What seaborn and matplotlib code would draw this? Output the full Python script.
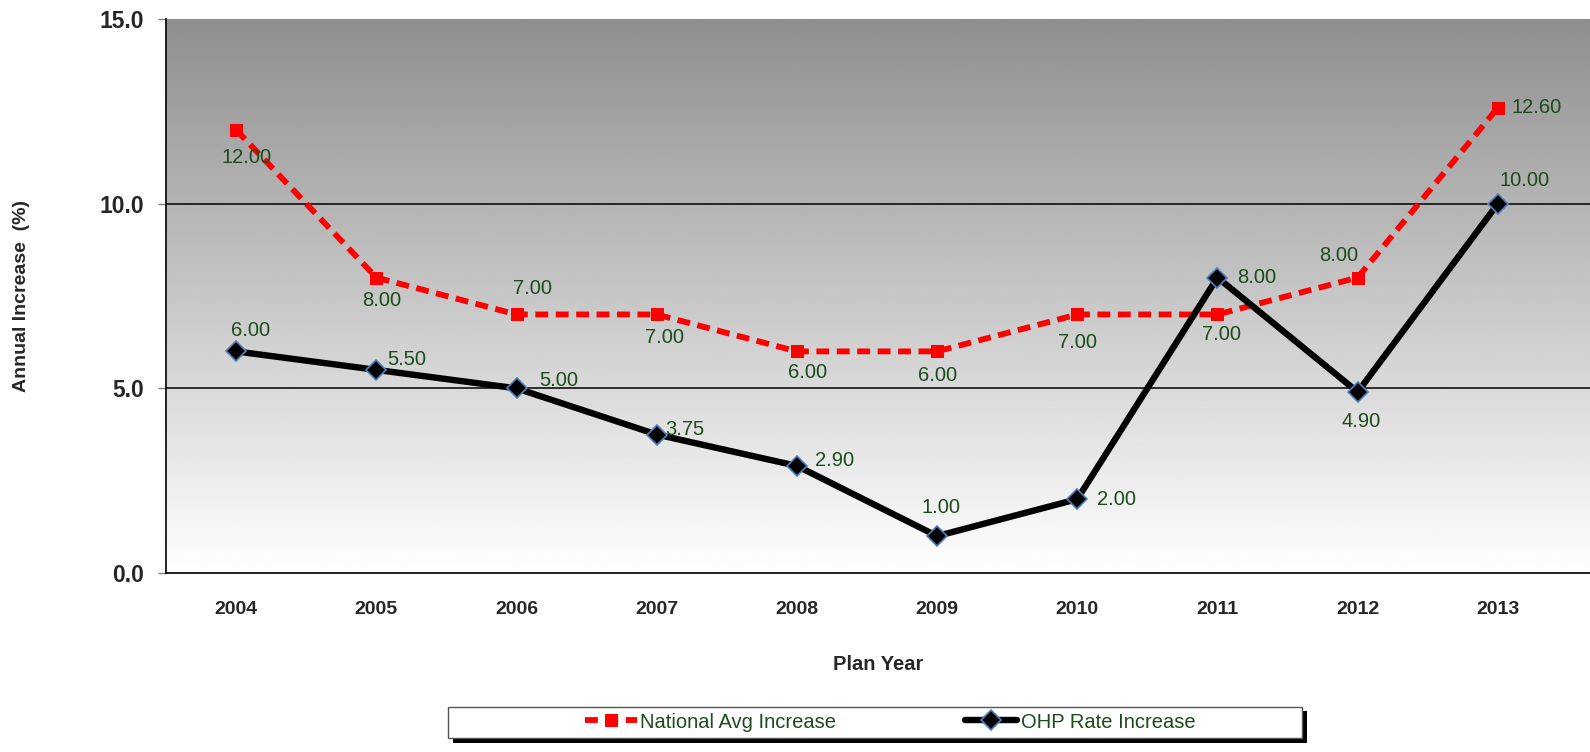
import numpy as np
import pandas as pd
import matplotlib
matplotlib.use('Agg')
import matplotlib.pyplot as plt
from matplotlib.patches import Rectangle
import seaborn as sns

# chart values
years = ['2004', '2005', '2006', '2007', '2008', '2009', '2010', '2011', '2012', '2013']
national_avg = [12.00, 8.00, 7.00, 7.00, 6.00, 6.00, 7.00, 7.00, 8.00, 12.60]
ohp_rate = [6.00, 5.50, 5.00, 3.75, 2.90, 1.00, 2.00, 8.00, 4.90, 10.00]

# label offsets in pixels (dx, dy up) -- placement as in the original
nat_offsets = [(10, -28), (5, -23), (16, 26), (8, -23), (11, -21), (0, -24),
               (0, -28), (4, -20), (-19, 22), (39, 0)]
ohp_offsets = [(14, 21), (30, 10), (42, 8), (28, 5), (38, 5), (4, 29),
               (39, 0), (39, 0), (3, -29), (27, 23)]

df = pd.DataFrame({'Plan Year': years, 'National': national_avg, 'OHP': ohp_rate})

sns.set_style('white')
plt.rcParams['font.family'] = ['Liberation Sans', 'DejaVu Sans']

W, H = 1590, 752
fig = plt.figure(figsize=(15.9, 7.52), dpi=100)
ax = fig.add_axes([166 / W, 1 - 573 / H, 1 - 166 / W, (573 - 19) / H])

# gradient background, dark grey at top to white at bottom
grad = np.linspace(0.56, 1.0, 256).reshape(-1, 1)
ax.imshow(grad, cmap='gray', vmin=0, vmax=1, extent=[0, 1, 0, 1], origin='upper',
          aspect='auto', transform=ax.transAxes, zorder=0)

for y in [5, 10]:
    ax.axhline(y, color='black', lw=1.1, zorder=1)

sns.lineplot(data=df, x='Plan Year', y='National', ax=ax, color='#ff0000', lw=4.2,
             linestyle=(0, (2.2, 1.3)), marker='s', markersize=9, markeredgecolor='#ff0000',
             label='National Avg Increase', zorder=3)
sns.lineplot(data=df, x='Plan Year', y='OHP', ax=ax, color='black', lw=4.6,
             marker='D', markersize=10, markeredgecolor='#4f81bd', markeredgewidth=1.2,
             label='OHP Rate Increase', zorder=4)

lab_col = '#1b4d1b'
for i, v in enumerate(national_avg):
    dx, dy = nat_offsets[i]
    ax.annotate(f'{v:.2f}', (i, v), xytext=(dx * 0.72, dy * 0.72), textcoords='offset points',
                ha='center', va='center', fontsize=14.5, color=lab_col, zorder=5)
for i, v in enumerate(ohp_rate):
    dx, dy = ohp_offsets[i]
    ax.annotate(f'{v:.2f}', (i, v), xytext=(dx * 0.72, dy * 0.72), textcoords='offset points',
                ha='center', va='center', fontsize=14.5, color=lab_col, zorder=5)

ax.set_xlim(-0.5, -0.5 + 1424 / 140.2)
ax.set_ylim(0, 15)
ax.set_yticks([0, 5, 10, 15])
ax.set_yticklabels(['0.0', '5.0', '10.0', '15.0'], fontsize=16.5, fontweight='bold')
ax.set_xticks(range(len(years)))
ax.set_xticklabels(years, fontsize=14, fontweight='bold')
ax.set_xticks(np.arange(-0.5, 10, 1), minor=True)
ax.tick_params(axis='x', which='major', length=0, pad=20)
ax.tick_params(axis='x', which='minor', length=5, color='#808080', width=1, direction='out')
ax.tick_params(axis='y', which='major', length=6, color='#808080', width=1, direction='out',
               left=True, pad=10)

for s in ['top', 'right']:
    ax.spines[s].set_visible(False)
for s in ['left', 'bottom']:
    ax.spines[s].set_color('black')
    ax.spines[s].set_linewidth(1.2)
    ax.spines[s].set_zorder(6)

ax.set_xlabel('Plan Year', fontsize=14.5, fontweight='bold', va='center')
ax.xaxis.set_label_coords(0.5, -(665 - 573) / 554)
ax.set_ylabel('Annual Increase  (%)', fontsize=14, fontweight='bold', va='center')
ax.yaxis.set_label_coords((22 - 166) / 1424, 0.5 - (296 - 296) / 554)

# legend box with a solid shadow, like the excel one
fig.patches.append(Rectangle((453 / W, 1 - 743 / H), (1307 - 453) / W, (743 - 711) / H,
                             transform=fig.transFigure, facecolor='black', edgecolor='none'))
fig.patches.append(Rectangle((448 / W, 1 - 738 / H), (1302 - 448) / W, (738 - 707) / H,
                             transform=fig.transFigure, facecolor='white', edgecolor='#555555', lw=1))

ax.get_legend().remove()
handles, labels = ax.get_legend_handles_labels()
leg = fig.legend(handles, labels, loc='center', bbox_to_anchor=(890 / W, 1 - 722 / H),
                 ncol=2, frameon=False, fontsize=14.5, handlelength=2.6, handletextpad=0.15,
                 columnspacing=6.4, borderaxespad=0)
for t in leg.get_texts():
    t.set_color(lab_col)

fig.savefig('out.png', dpi=100)
